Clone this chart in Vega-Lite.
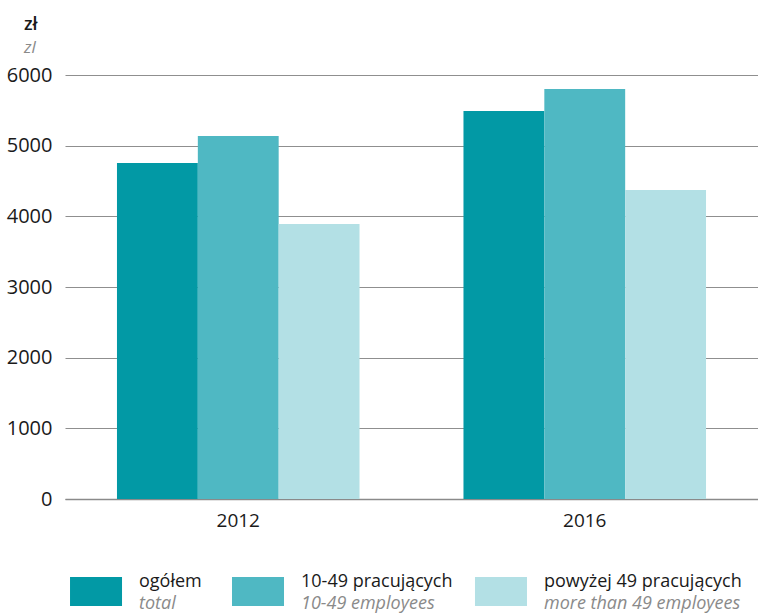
{
  "$schema": "https://vega.github.io/schema/vega-lite/v6.json",
  "autosize": {"type": "pad"},
  "padding": {"left": 6, "top": 16, "right": 0, "bottom": 0},
  "background": "white",
  "config": {
    "font": "Open Sans",
    "view": {"stroke": null},
    "axis": {"labelFont": "Open Sans", "labelColor": "#1a1a1a", "labelFontSize": 20, "ticks": false, "title": null}
  },
  "datasets": {
    "wages": [
      {"year": "2012", "group": "ogółem", "value": 4755},
      {"year": "2012", "group": "10-49 pracujących", "value": 5137},
      {"year": "2012", "group": "powyżej 49 pracujących", "value": 3891},
      {"year": "2016", "group": "ogółem", "value": 5490},
      {"year": "2016", "group": "10-49 pracujących", "value": 5802},
      {"year": "2016", "group": "powyżej 49 pracujących", "value": 4372}
    ],
    "legendItems": [
      {"group": "ogółem", "english": "total"},
      {"group": "10-49 pracujących", "english": "10-49 employees"},
      {"group": "powyżej 49 pracujących", "english": "more than 49 employees"}
    ]
  },
  "vconcat": [
    {
      "width": 693,
      "height": 424,
      "title": {
        "text": "zł",
        "subtitle": "zl",
        "anchor": "start",
        "frame": "group",
        "dx": -41,
        "offset": 9,
        "font": "Open Sans",
        "fontSize": 18,
        "fontWeight": 600,
        "color": "#1a1a1a",
        "subtitleFont": "Open Sans",
        "subtitleFontSize": 17,
        "subtitleFontStyle": "italic",
        "subtitleColor": "#8a8a8a",
        "subtitlePadding": 6
      },
      "data": {"name": "wages"},
      "mark": {"type": "bar"},
      "encoding": {
        "x": {
          "field": "year",
          "type": "nominal",
          "scale": {"paddingInner": 0.3, "paddingOuter": 0.15},
          "axis": {"labelAngle": 0, "labelPadding": 12, "labelFontSize": 19, "domain": true, "domainColor": "#8a8a8a", "domainWidth": 1.5, "grid": false}
        },
        "xOffset": {
          "field": "group",
          "type": "nominal",
          "sort": ["ogółem", "10-49 pracujących", "powyżej 49 pracujących"],
          "scale": {"paddingInner": 0, "paddingOuter": 0}
        },
        "y": {
          "field": "value",
          "type": "quantitative",
          "scale": {"domain": [0, 6000], "nice": false},
          "axis": {"values": [0, 1000, 2000, 3000, 4000, 5000, 6000], "format": "d", "grid": true, "gridColor": "#8f8f8f", "gridWidth": 1, "domain": false, "labelPadding": 13}
        },
        "color": {
          "field": "group",
          "type": "nominal",
          "scale": {"domain": ["ogółem", "10-49 pracujących", "powyżej 49 pracujących"], "range": ["#0299a5", "#4fb8c3", "#b3e0e5"]},
          "legend": null
        }
      }
    },
    {
      "width": 467,
      "height": 29,
      "data": {"name": "legendItems"},
      "encoding": {
        "x": {
          "field": "group",
          "type": "nominal",
          "scale": {"type": "point", "domain": ["ogółem", "gap1", "10-49 pracujących", "gap2", "gap3", "powyżej 49 pracujących"], "padding": 0.383},
          "axis": null
        }
      },
      "layer": [
        {
          "mark": {"type": "bar", "width": 52},
          "encoding": {
            "color": {
              "field": "group",
              "type": "nominal",
              "scale": {"domain": ["ogółem", "10-49 pracujących", "powyżej 49 pracujących"], "range": ["#0299a5", "#4fb8c3", "#b3e0e5"]},
              "legend": null
            }
          }
        },
        {
          "mark": {"type": "text", "align": "left", "baseline": "middle", "dx": 43, "dy": -10, "fontSize": 18, "color": "#1a1a1a", "font": "Open Sans"},
          "encoding": {"text": {"field": "group"}}
        },
        {
          "mark": {"type": "text", "align": "left", "baseline": "middle", "dx": 43, "dy": 12, "fontSize": 18, "fontStyle": "italic", "color": "#8a8a8a", "font": "Open Sans"},
          "encoding": {"text": {"field": "english"}}
        }
      ]
    }
  ],
  "bounds": "flush",
  "spacing": 78
}
